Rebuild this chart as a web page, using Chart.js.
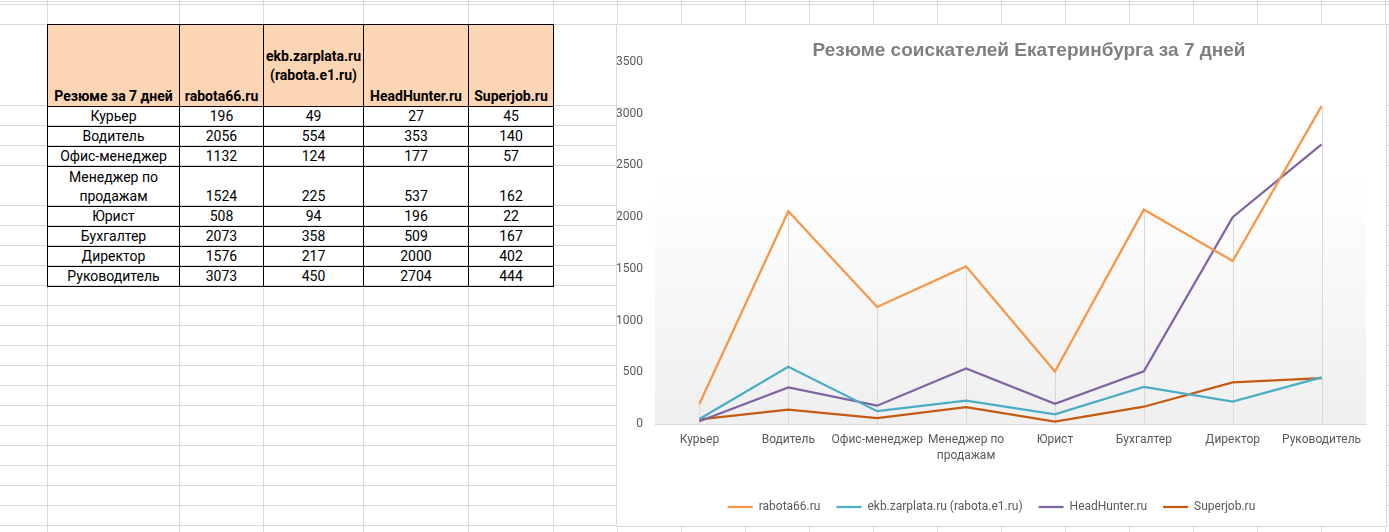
<!DOCTYPE html>
<html>
<head>
<meta charset="utf-8">
<script src="https://cdn.jsdelivr.net/npm/chart.js@4.4.0/dist/chart.umd.min.js"></script>
<style>
  body { margin: 0; background: #fff; overflow: hidden; width: 1389px; height: 532px; position: relative; }
  .gl { position: absolute; background: #d9d9d9; }
  #sheet { position: absolute; left: 47px; top: 24px; width: 507px; border-collapse: collapse; table-layout: fixed;
           font-family: Roboto, "Liberation Sans", sans-serif; font-size: 14px; color: #000; }
  #sheet td { border: 1px solid #000; padding: 0; line-height: 19px; height: 19px; text-align: center;
              vertical-align: bottom; white-space: nowrap; }
  #sheet tr.head td { background: #fcd5b4; font-weight: bold; height: 81px; }
  #sheet tr.head td.mid { vertical-align: middle; white-space: normal; }
  #sheet tr.tall td { height: 39px; white-space: normal; }
  #box { position: absolute; left: 616px; top: 24px; width: 771px; height: 503px; box-sizing: border-box;
         border: 1px solid #d9d9d9; background: #fff; }
  #chart { position: absolute; left: 0; top: 0; }
</style>
</head>
<body>
<div id="grid"></div>
<table id="sheet"></table>
<div id="box"><canvas id="chart" width="769" height="501"></canvas></div>
<script>
// data
const categories = ['Курьер', 'Водитель', 'Офис-менеджер', 'Менеджер по продажам', 'Юрист', 'Бухгалтер', 'Директор', 'Руководитель'];
const seriesNames = ['rabota66.ru', 'ekb.zarplata.ru (rabota.e1.ru)', 'HeadHunter.ru', 'Superjob.ru'];
const rabota66 = [196, 2056, 1132, 1524, 508, 2073, 1576, 3073];
const zarplata = [49, 554, 124, 225, 94, 358, 217, 450];
const headhunter = [27, 353, 177, 537, 196, 509, 2000, 2704];
const superjob = [45, 140, 57, 162, 22, 167, 402, 444];
const yTicks = [0, 500, 1000, 1500, 2000, 2500, 3000, 3500];
const tableTitle = 'Резюме за 7 дней';
const chartTitle = 'Резюме соискателей Екатеринбурга за 7 дней';

const series = [rabota66, zarplata, headhunter, superjob];
const colors = ['#f79646', '#4bacc6', '#8064a2', '#c55a11'];

// spreadsheet gridlines
const grid = document.getElementById('grid');
const colLines = [47, 179, 263, 363, 468, 553];
for (let x = 617; x < 1389; x += 64) colLines.push(x);
const rowLines = [1, 4, 24, 105, 125, 145, 165, 205, 225, 245, 265];
for (let y = 285; y < 532; y += 20) rowLines.push(y);
colLines.forEach(x => {
  const d = document.createElement('div');
  d.className = 'gl';
  d.style.cssText = 'left:' + x + 'px;top:0;width:1px;height:532px';
  grid.appendChild(d);
});
rowLines.forEach(y => {
  const d = document.createElement('div');
  d.className = 'gl';
  d.style.cssText = 'left:0;top:' + y + 'px;width:1389px;height:1px';
  grid.appendChild(d);
});

// table
const colW = [132, 84, 100, 105, 85];
const sheet = document.getElementById('sheet');
let html = '<colgroup>' + colW.map(w => '<col style="width:' + w + 'px">').join('') + '</colgroup>';
html += '<tr class="head"><td>' + tableTitle + '</td>' +
  seriesNames.map(n => '<td' + (n.indexOf('(') > 0 ? ' class="mid"' : '') + '>' + n + '</td>').join('') + '</tr>';
categories.forEach((c, i) => {
  html += '<tr' + (c.length > 15 ? ' class="tall"' : '') + '><td>' + c + '</td>' +
    series.map(s => '<td>' + s[i] + '</td>').join('') + '</tr>';
});
sheet.innerHTML = html;

// chart
const font = 'Roboto, "Liberation Sans", sans-serif';
const labels = categories.map(c => c.length > 15 ? ['Менеджер по', 'продажам'] : c);
const legendPad = 16;

const plotFill = {
  id: 'plotFill',
  beforeDraw(chart) {
    const a = chart.chartArea, ctx = chart.ctx;
    const top = a.top + 113;
    const g = ctx.createLinearGradient(0, top, 0, a.bottom);
    g.addColorStop(0, '#ffffff');
    g.addColorStop(1, '#efefef');
    ctx.save();
    ctx.fillStyle = g;
    ctx.fillRect(a.left, top, a.right - a.left, a.bottom - top);
    ctx.restore();
  }
};

const dropLines = {
  id: 'dropLines',
  beforeDatasetsDraw(chart) {
    const x = chart.scales.x, y = chart.scales.y, ctx = chart.ctx;
    ctx.save();
    ctx.strokeStyle = '#d9d9d9';
    ctx.lineWidth = 1;
    categories.forEach((c, i) => {
      const top = Math.max(...series.map(s => s[i]));
      const px = Math.round(x.getPixelForValue(i)) + 0.5;
      ctx.beginPath();
      ctx.moveTo(px, y.getPixelForValue(top));
      ctx.lineTo(px, y.getPixelForValue(0));
      ctx.stroke();
    });
    ctx.restore();
  }
};

const titleText = {
  id: 'titleText',
  afterDraw(chart) {
    const ctx = chart.ctx;
    ctx.save();
    ctx.font = 'bold 19px "Liberation Sans", sans-serif';
    ctx.fillStyle = '#7f7f7f';
    ctx.textAlign = 'center';
    ctx.textBaseline = 'middle';
    ctx.fillText(chartTitle, 412, 26);
    ctx.restore();
  }
};

new Chart(document.getElementById('chart'), {
  type: 'line',
  data: {
    labels: labels,
    datasets: series.map((s, i) => ({
      label: seriesNames[i],
      data: s,
      borderColor: colors[i],
      backgroundColor: colors[i],
      borderWidth: 2.25,
      pointRadius: 0,
      tension: 0
    }))
  },
  options: {
    responsive: false,
    animation: false,
    devicePixelRatio: 1,
    layout: { padding: { top: 37, right: 20, bottom: 3, left: 0 } },
    plugins: {
      legend: {
        position: 'bottom',
        labels: {
          usePointStyle: true,
          pointStyle: 'line',
          pointStyleWidth: 25,
          color: '#595959',
          font: { family: font, size: 12 },
          padding: legendPad
        }
      },
      tooltip: { enabled: false }
    },
    scales: {
      x: {
        offset: true,
        grid: { display: true, color: 'transparent', drawTicks: false },
        border: { display: true, color: '#d9d9d9' },
        ticks: { color: '#595959', font: { family: font, size: 12, lineHeight: 1.333 }, padding: 8, maxRotation: 0, autoSkip: false },
        afterFit(s) { s.height = 77 - legendPad; }
      },
      y: {
        min: 0,
        max: 3500,
        afterBuildTicks(s) { s.ticks = yTicks.map(v => ({ value: v })); },
        grid: { display: false, drawTicks: false },
        border: { display: false },
        ticks: { color: '#595959', font: { family: font, size: 12 }, padding: 12, callback: v => String(v) },
        afterFit(s) { s.width = 38; }
      }
    }
  },
  plugins: [plotFill, dropLines, titleText]
});
</script>
</body>
</html>
